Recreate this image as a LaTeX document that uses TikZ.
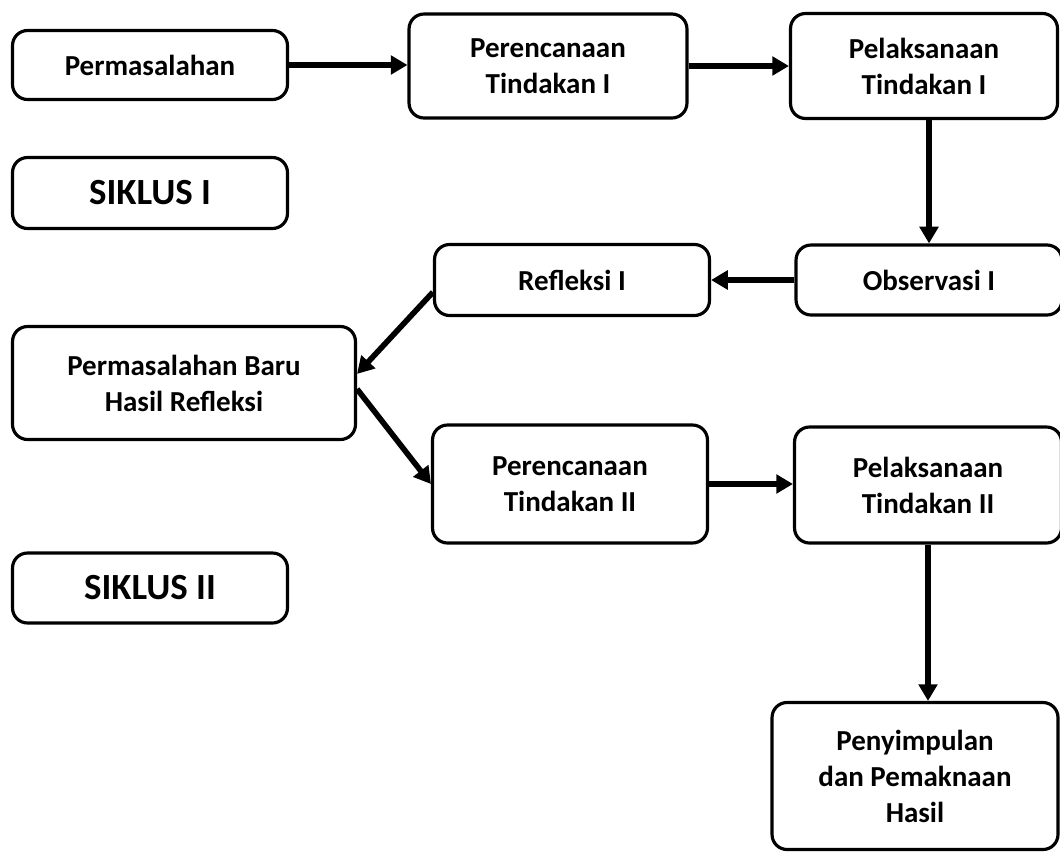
\documentclass[tikz,border=0pt]{standalone}
\usepackage{fontspec}
\setmainfont{Carlito}
\usetikzlibrary{arrows.meta}

\begin{document}
\begin{tikzpicture}[x=0.02cm,y=-0.02cm,
  box/.style={draw,line width=1.8pt,rounded corners=0.3cm,align=center,
    inner sep=0pt,font=\fontsize{16.5}{20.5}\selectfont\bfseries},
  siklus/.style={box,font=\fontsize{21}{25}\selectfont\bfseries},
  flow/.style={line width=3.2pt,-{Triangle[length=9.5pt,width=10.5pt]}}]
\useasboundingbox (0,0) rectangle (1060,852);
%siklus 1
\node[box,minimum width=5.5cm,minimum height=1.38cm] (perm) at (150,65) {Permasalahan};
\node[box,minimum width=5.56cm,minimum height=2.08cm] (renc1) at (548,66) {Perencanaan\\Tindakan I};
\node[box,minimum width=5.34cm,minimum height=2.1cm] (lak1) at (924,66) {Pelaksanaan\\Tindakan I};
\node[siklus,minimum width=5.5cm,minimum height=1.42cm] (sik1) at (150,193) {SIKLUS I};
\node[box,minimum width=5.32cm,minimum height=1.4cm] (obs) at (929,280) {Observasi I};
\node[box,minimum width=5.5cm,minimum height=1.42cm] (refl) at (572,280) {Refleksi I};
\draw[flow] (perm.east) -- (perm.east -| renc1.west);
\draw[flow] (renc1.east) -- (renc1.east -| lak1.west);
\draw[flow] (obs.north |- lak1.south) -- (obs.north);
\draw[flow] (obs.west) -- (refl.east);
%siklus 2
\node[box,minimum width=6.86cm,minimum height=2.26cm] (baru) at (184,383) {Permasalahan Baru\\Hasil Refleksi};
\node[box,minimum width=5.5cm,minimum height=2.36cm] (renc2) at (570,484) {Perencanaan\\Tindakan II};
\node[box,minimum width=5.34cm,minimum height=2.32cm] (lak2) at (928,485) {Pelaksanaan\\Tindakan II};
\node[siklus,minimum width=5.5cm,minimum height=1.4cm] (sik2) at (150,588) {SIKLUS II};
\node[box,minimum width=5.72cm,minimum height=2.94cm,text depth=-0.3cm] (simp) at (915,776) {Penyimpulan\\dan Pemaknaan\\Hasil};
\draw[flow] (refl.185) -- (baru.3);
\draw[flow] (baru.-2) -- (renc2.west);
\draw[flow] (renc2.east) -- (renc2.east -| lak2.west);
\draw[flow] (lak2.south) -- (lak2.south |- simp.north);
\end{tikzpicture}
\end{document}
